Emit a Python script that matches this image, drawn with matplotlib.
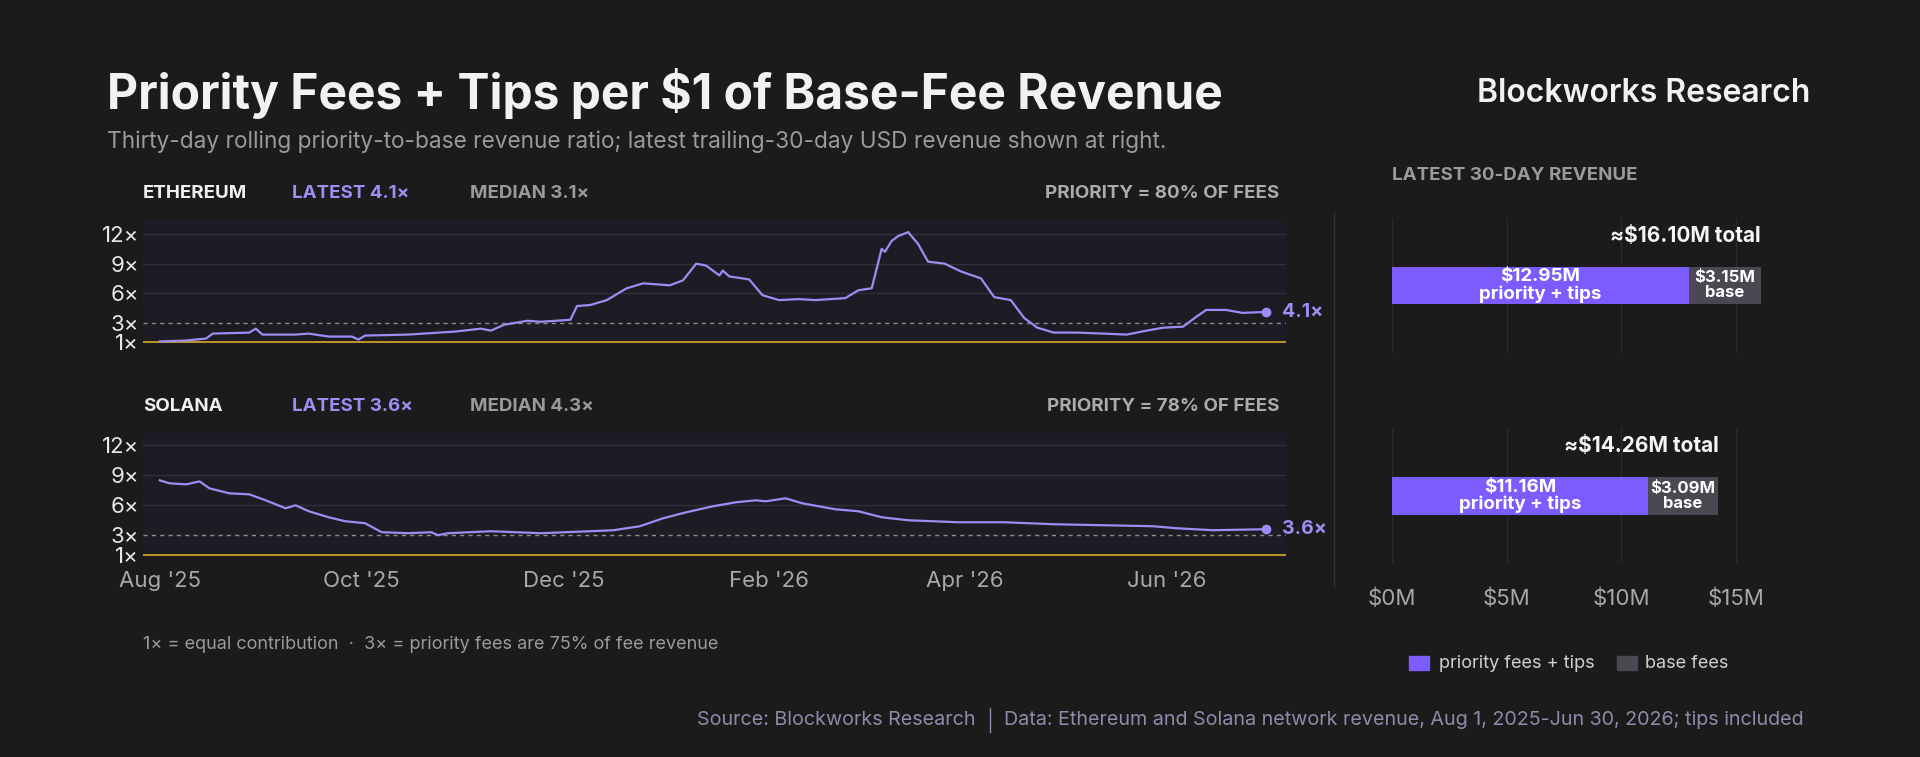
import numpy as np
import pandas as pd
import matplotlib.pyplot as plt
import matplotlib.dates as mdates

plt.rcParams['font.family'] = ['Inter', 'DejaVu Sans']

start = pd.Timestamp('2025-08-01')

# ratio series (days since Aug 1 2025, ratio)
eth_days = [0, 8, 14, 16, 27, 29, 31, 41, 45, 51, 58, 60, 62, 75, 89, 97, 100, 104, 111, 115,
            124, 126, 130, 135, 141, 146, 154, 158, 162, 165, 169, 170, 172, 178, 182, 187, 193,
            198, 207, 211, 215, 218, 219, 221, 223, 226, 229, 232, 237, 242, 248, 252, 257, 261,
            265, 270, 277, 285, 292, 298, 303, 309, 313, 316, 322, 327, 334]
eth_vals = [1.1, 1.2, 1.4, 1.9, 2.0, 2.4, 1.8, 1.8, 1.9, 1.6, 1.6, 1.3, 1.7, 1.8, 2.1, 2.4, 2.2,
            2.8, 3.2, 3.1, 3.3, 4.7, 4.8, 5.3, 6.5, 7.0, 6.8, 7.3, 9.0, 8.8, 7.8, 8.3, 7.7, 7.4,
            5.8, 5.3, 5.4, 5.3, 5.5, 6.3, 6.5, 10.5, 10.2, 11.3, 11.8, 12.2, 11.0, 9.2, 9.0, 8.2,
            7.5, 5.6, 5.3, 3.5, 2.5, 2.0, 2.0, 1.9, 1.8, 2.2, 2.5, 2.6, 3.6, 4.3, 4.3, 4.0, 4.1]
sol_days = [0, 3, 8, 12, 15, 21, 27, 32, 38, 41, 45, 51, 56, 62, 67, 75, 82, 84, 87, 100, 115,
            130, 137, 145, 152, 159, 167, 174, 180, 183, 189, 194, 204, 211, 218, 226, 241, 255,
            270, 285, 300, 307, 318, 334]
sol_vals = [8.5, 8.2, 8.1, 8.4, 7.7, 7.2, 7.1, 6.5, 5.7, 6.0, 5.4, 4.8, 4.4, 4.2, 3.3, 3.2, 3.3,
            3.0, 3.2, 3.4, 3.2, 3.4, 3.5, 3.9, 4.7, 5.3, 5.9, 6.3, 6.5, 6.4, 6.7, 6.2, 5.6, 5.4,
            4.8, 4.5, 4.3, 4.3, 4.1, 4.0, 3.9, 3.7, 3.5, 3.6]

chains = ['ETHEREUM', 'SOLANA']
latest = ['4.1', '3.6']
medians = ['3.1', '4.3']
priority_share = ['80', '78']

# latest 30-day revenue, $M
priority_rev = [12.95, 11.16]
base_rev = [3.15, 3.09]
total_rev = [16.10, 14.26]

BG = '#1b1b1b'
PANEL = '#1d1c24'
LINE = '#9d8cf2'
PURPLE = '#7a5cff'
BASE = '#4a4952'
GOLD = '#c9a227'
GRID = '#2f2e3a'

fig = plt.figure(figsize=(19.2, 7.57), dpi=100, facecolor=BG)

fig.text(0.0555, 0.877, 'Priority Fees + Tips per $1 of Base-Fee Revenue', fontsize=34.5,
         fontweight='bold', color='#f2f2f2', va='center')
fig.text(0.0555, 0.813, 'Thirty-day rolling priority-to-base revenue ratio; latest trailing-30-day USD revenue shown at right.',
         fontsize=16.3, color='#9a9a9a', va='center')
fig.text(0.943, 0.877, 'Blockworks Research', fontsize=23, fontweight='semibold',
         color='#f2f2f2', ha='right', va='center', fontstretch='condensed')

series = [(eth_days, eth_vals), (sol_days, sol_vals)]
line_axes = [(0.545, 0.709), (0.264, 0.430)]
header_y = [0.744, 0.463]
for i, ((d, v), (b, t)) in enumerate(zip(series, line_axes)):
    ax = fig.add_axes([0.0746, b, 0.595, t - b])
    ax.set_facecolor(PANEL)
    dates = start + pd.to_timedelta(d, unit='D')
    for y in [6, 9, 12]:
        ax.axhline(y, color=GRID, lw=1, zorder=0)
    ax.axhline(3, color='#8a8a8a', lw=1, ls=(0, (3, 3)), zorder=1)
    ax.axhline(1, color=GOLD, lw=1.3, zorder=1)
    ax.plot(dates, v, color=LINE, lw=1.6, zorder=3)
    ax.plot(dates[-1], v[-1], 'o', color=LINE, ms=6, zorder=4)
    ax.annotate(latest[i] + '×', (dates[-1], v[-1]), xytext=(12, 0), textcoords='offset points',
                color=LINE, fontsize=14, fontweight='bold', va='center')
    ax.set_xlim(pd.Timestamp('2025-07-27'), pd.Timestamp('2026-07-07'))
    ax.set_ylim(0.8, 13.4)
    ax.set_yticks([1, 3, 6, 9, 12])
    ax.set_yticklabels([f'{y}×' for y in [1, 3, 6, 9, 12]])
    ax.tick_params(axis='y', colors='#e8e8e8', labelsize=16, length=0, pad=3)
    ax.tick_params(axis='x', colors='#a8a8a8', labelsize=16, length=0, pad=10)
    ax.xaxis.set_major_locator(mdates.MonthLocator(bymonth=[2, 4, 6, 8, 10, 12]))
    ax.xaxis.set_major_formatter(mdates.DateFormatter("%b '%y"))
    if i == 0:
        ax.set_xticklabels([])
    for s in ax.spines.values():
        s.set_visible(False)
    hy = header_y[i]
    fig.text(0.0746, hy, chains[i], fontsize=13.5, fontweight='bold', color='#f0f0f0', va='center')
    fig.text(0.152, hy, f'LATEST {latest[i]}×', fontsize=13.5, fontweight='bold', color='#a08cf5', va='center')
    fig.text(0.245, hy, f'MEDIAN {medians[i]}×', fontsize=13.5, fontweight='bold', color='#9a9a9a', va='center')
    fig.text(0.6665, hy, f'PRIORITY = {priority_share[i]}% OF FEES', fontsize=13.5, fontweight='bold',
             color='#ababab', ha='right', va='center')

fig.text(0.0746, 0.148, '1× = equal contribution  ·  3× = priority fees are 75% of fee revenue',
         fontsize=13, color='#9a9a9a', va='center')

# separator
fig.add_artist(plt.Line2D([0.695, 0.695], [0.225, 0.72], color='#333333', lw=1))

fig.text(0.725, 0.768, 'LATEST 30-DAY REVENUE', fontsize=13.5, fontweight='bold', color='#9a9a9a', va='center')

bar_axes = [(0.534, 0.712), (0.256, 0.434)]
for i, (b, t) in enumerate(bar_axes):
    ax = fig.add_axes([0.725, b, 0.1945, t - b])
    ax.set_facecolor('none')
    ax.barh(0.5, priority_rev[i], height=0.28, color=PURPLE)
    ax.barh(0.5, base_rev[i], left=priority_rev[i], height=0.28, color=BASE)
    ax.text(priority_rev[i] / 2, 0.5, f'${priority_rev[i]:.2f}M\npriority + tips', ha='center',
            va='center', color='white', fontsize=13.5, fontweight='bold', linespacing=1.0)
    ax.text(priority_rev[i] + base_rev[i] / 2, 0.5, f'${base_rev[i]:.2f}M\nbase', ha='center',
            va='center', color='white', fontsize=12, fontweight='bold', linespacing=1.0)
    ax.text(total_rev[i], 0.87, f'≈${total_rev[i]:.2f}M total', ha='right', va='center',
            color='#f5f5f5', fontsize=15, fontweight='bold')
    ax.set_xlim(0, 16.3)
    ax.set_ylim(0, 1)
    ax.set_xticks([0, 5, 10, 15])
    ax.grid(axis='x', color='#2a2a2a', lw=1)
    ax.set_axisbelow(True)
    ax.set_yticks([])
    ax.tick_params(axis='x', length=0, colors='#a8a8a8', labelsize=16, pad=18)
    if i == 0:
        ax.set_xticklabels([])
    else:
        ax.set_xticklabels([f'${x}M' for x in [0, 5, 10, 15]])
    for s in ax.spines.values():
        s.set_visible(False)

lx = 0.734
fig.patches.append(plt.Rectangle((lx, 0.115), 0.0105, 0.018, color=PURPLE, transform=fig.transFigure))
fig.text(lx + 0.0155, 0.123, 'priority fees + tips', fontsize=13, color='#d0d0d0', va='center')
fig.patches.append(plt.Rectangle((0.842, 0.115), 0.0105, 0.018, color=BASE, transform=fig.transFigure))
fig.text(0.857, 0.123, 'base fees', fontsize=13, color='#d0d0d0', va='center')

fig.text(0.508, 0.049, 'Source: Blockworks Research', fontsize=14.2, color='#8f8aa8', ha='right', va='center')
fig.add_artist(plt.Line2D([0.5155, 0.5155], [0.033, 0.065], color='#8f8aa8', lw=1))
fig.text(0.523, 0.049, 'Data: Ethereum and Solana network revenue, Aug 1, 2025-Jun 30, 2026; tips included',
         fontsize=14.2, color='#8f8aa8', va='center')

fig.savefig('out.png', dpi=100, facecolor=BG)
